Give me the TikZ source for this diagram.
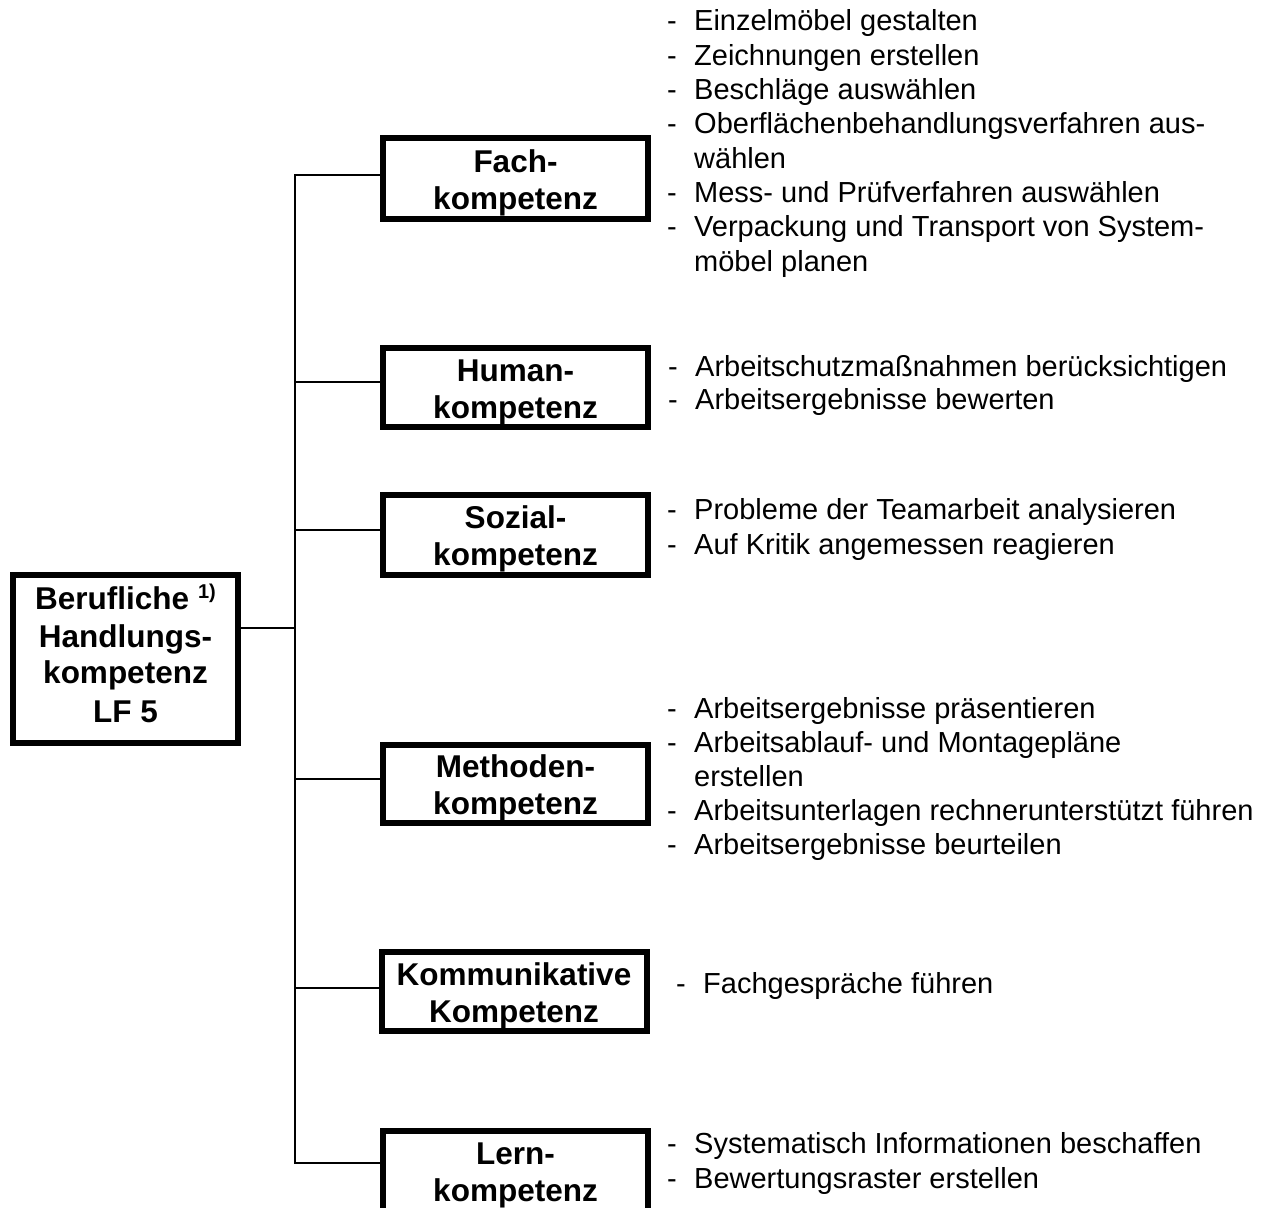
\documentclass[tikz,border=0pt]{standalone}
\usepackage{fontspec}
\setmainfont{Liberation Sans}
\newcommand{\listdash}{\makebox[27pt][l]{-}}
\newcommand{\listcont}{\hspace*{27pt}}
% invisible rule that lowers the two-line box labels a little
\newcommand{\boxstrut}{\rule{0pt}{31pt}}
\begin{document}
\begin{tikzpicture}[x=1pt,y=-1pt,
  box/.style={draw, line width=6pt, minimum width=265pt, minimum height=80pt,
    inner sep=0pt, align=center, font=\fontsize{31.5}{37}\selectfont\bfseries},
  link/.style={line width=2pt},
  item/.style={anchor=base west, inner sep=0pt, font=\fontsize{29}{34}\selectfont}]
\clip (0,0) rectangle (1273,1207);

% main box
\node[box, minimum width=225pt, minimum height=168pt,
  font=\fontsize{31.5}{36}\selectfont\bfseries] (hk) at (125.5,659)
  {Berufliche \raisebox{11pt}{\fontsize{20}{20}\selectfont 1)}\\[2pt]Handlungs-\\kompetenz\\[3pt]LF 5\rule[-11pt]{0pt}{0pt}};

% competence boxes
\node[box, minimum height=81pt] (fach) at (515.5,178.5) {\boxstrut Fach-\\kompetenz};
\node[box, minimum height=79pt] (human) at (515.5,387.5) {\boxstrut Human-\\kompetenz};
\node[box] (sozial) at (515.5,535) {\boxstrut Sozial-\\kompetenz};
\node[box, minimum height=78pt] (methoden) at (515.5,784) {\boxstrut Methoden-\\kompetenz};
\node[box, minimum height=79pt] (komm) at (514,991.5) {\boxstrut Kommunikative\\Kompetenz};
\node[box] (lern) at (515.5,1171) {\boxstrut Lern-\\kompetenz};

% tree connectors
\coordinate (jF) at (295,175);
\coordinate (jH) at (295,382);
\coordinate (jS) at (295,530);
\coordinate (jB) at (295,628);
\coordinate (jM) at (295,779);
\coordinate (jK) at (295,988);
\coordinate (jL) at (295,1163);
\draw[link] (jF -| fach.west) -- (jF) -- (jL) -- (jL -| lern.west);
\draw[link] (jH) -- (jH -| human.west);
\draw[link] (jS) -- (jS -| sozial.west);
\draw[link] (jB -| hk.east) -- (jB);
\draw[link] (jM) -- (jM -| methoden.west);
\draw[link] (jK) -- (jK -| komm.west);

% task lists
\foreach \t [count=\i] in {
  \listdash Einzelmöbel gestalten,
  \listdash Zeichnungen erstellen,
  \listdash Beschläge auswählen,
  \listdash Oberflächenbehandlungsverfahren aus-,
  \listcont wählen,
  \listdash Mess- und Prüfverfahren auswählen,
  \listdash Verpackung und Transport von System-,
  \listcont möbel planen}
  \node[item] (f\i) at (667,{31+34.3*(\i-1)}) {\t};

\foreach \t [count=\i] in {
  \listdash Arbeitschutzmaßnahmen berücksichtigen,
  \listdash Arbeitsergebnisse bewerten}
  \node[item] (h\i) at (668,{376+33*(\i-1)}) {\t};

\foreach \t [count=\i] in {
  \listdash Probleme der Teamarbeit analysieren,
  \listdash Auf Kritik angemessen reagieren}
  \node[item] (s\i) at (667,{519+35*(\i-1)}) {\t};

\foreach \t [count=\i] in {
  \listdash Arbeitsergebnisse präsentieren,
  \listdash Arbeitsablauf- und Montagepläne,
  \listcont erstellen,
  \listdash Arbeitsunterlagen rechnerunterstützt führen,
  \listdash Arbeitsergebnisse beurteilen}
  \node[item] (m\i) at (667,{718+34*(\i-1)}) {\t};

\node[item] (k1) at (676,993) {\listdash Fachgespräche führen};

\foreach \t [count=\i] in {
  \listdash Systematisch Informationen beschaffen,
  \listdash Bewertungsraster erstellen}
  \node[item] (l\i) at (667,{1153+35*(\i-1)}) {\t};
\end{tikzpicture}
\end{document}
